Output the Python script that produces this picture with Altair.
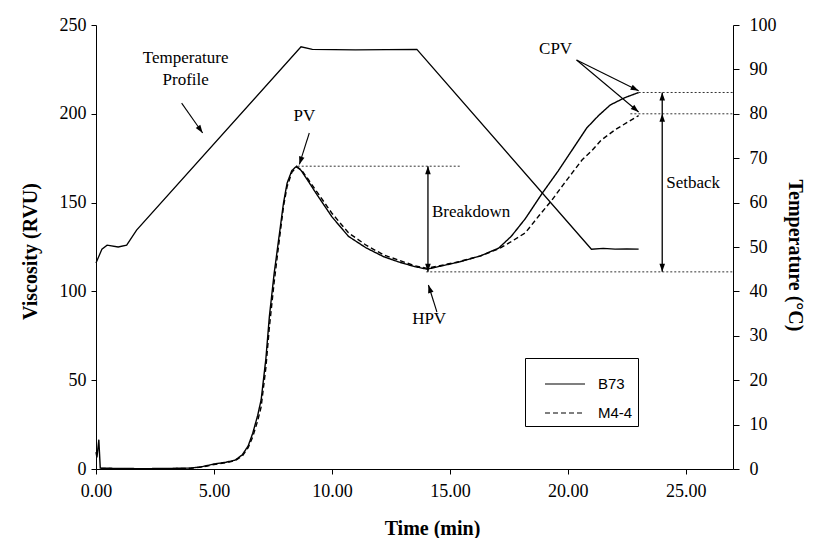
import math
import altair as alt
import pandas as pd

# ---------------- data ----------------
b73_t = [0, 0.04, 0.12, 0.18, 1, 2, 3, 4, 4.5, 5, 5.5, 5.9, 6.2, 6.45, 6.64, 6.85, 7.0, 7.2,
         7.35, 7.55, 7.78, 7.95, 8.1, 8.3, 8.5, 8.7, 9.0, 9.34, 10.0, 10.7, 11.45, 12.2, 12.85,
         13.5, 14.03, 15.4, 16.3, 17.07, 17.6, 18.2, 18.9, 19.6, 20.2, 20.8, 21.3, 21.8, 22.4, 23.0]
b73_v = [9.5, 6.5, 16.5, 0.5, 0.3, 0.2, 0.3, 0.5, 1.3, 2.8, 3.8, 5.0, 8, 13, 20, 30, 39, 62,
         86, 110, 133, 150, 161, 168, 170.5, 168, 162, 155, 142, 131, 124.5, 119.5, 116.5,
         114, 112.5, 116.6, 120, 124.4, 131, 141, 155, 168, 180, 192, 199, 205, 209, 212]

m44_t = [0.2, 1, 2, 3, 4, 4.5, 5, 5.5, 5.9, 6.2, 6.45, 6.64, 6.85, 7.0, 7.2, 7.35, 7.55, 7.78,
         7.95, 8.1, 8.3, 8.5, 8.7, 9.0, 9.34, 10.0, 10.7, 11.45, 12.2, 12.85, 13.5, 14.03, 15.4,
         16.3, 17.07, 17.6, 18.2, 18.8, 19.3, 19.8, 20.2, 20.6, 21.0, 21.4, 22.0, 22.5, 23.0]
m44_v = [0.3, 0.2, 0.2, 0.2, 0.4, 1.1, 2.5, 3.5, 4.7, 7.3, 12, 18, 27, 35, 57, 80, 105, 130,
         148, 159, 167, 170, 168.5, 163, 156.5, 144, 133, 126, 120.5, 117.5, 114.5, 113, 116.8,
         120, 124, 128, 133, 143, 151, 160, 167, 174, 179, 185, 191, 195, 199]

temp_t = [0, 0.25, 0.47, 0.94, 1.3, 1.72, 8.69, 9.17, 11.0, 13.6, 21.0, 21.5, 22.0, 22.5, 23.0]
temp_c = [46.4, 49.5, 50.4, 50.0, 50.4, 53.8, 95.1, 94.5, 94.4, 94.5, 49.5, 49.7, 49.5, 49.6, 49.5]

series_names = ["B73", "M4-4"]
x_ticks = [0, 5, 10, 15, 20, 25]
visc_ticks = [0, 50, 100, 150, 200, 250]
temp_ticks = [0, 10, 20, 30, 40, 50, 60, 70, 80, 90, 100]

# characteristic viscosity levels (RVU)
PV, HPV, CPV_B73, CPV_M44 = 170.5, 111.0, 212.0, 200.0

# dotted guide lines: (start time, end time, level)
guide_start = [8.55, 14.0, 23.0, 22.65]
guide_end = [15.5, 27.0, 27.0, 27.0]
guide_level = [PV, HPV, CPV_B73, CPV_M44]

# vertical double arrows: (time, low, high)
vert_t = [14.07, 24.0]
vert_lo = [HPV, HPV]
vert_hi = [PV, CPV_B73]

# slanted pointer arrows: (t0, v0) -> (t1, v1)
ptr_t0 = [3.63, 9.04, 14.45, 20.37, 20.37]
ptr_v0 = [206.0, 189.2, 88.4, 230.3, 230.3]
ptr_t1 = [4.52, 8.62, 14.09, 23.0, 23.0]
ptr_v1 = [189.2, 171.5, 103.6, 213.0, 201.0]

# labels
lab_text = ["Temperature", "Profile", "PV", "HPV", "CPV"]
lab_t = [3.8, 3.8, 8.83, 14.12, 19.48]
lab_v = [231.4, 219.0, 198.6, 84.4, 236.5]
side_text = ["Breakdown", "Setback"]
side_t = [14.24, 24.17]
side_v = [144.7, 161.0]

# ---------------- layout ----------------
W, H = 637, 444
X_DOM = [0, 27]
V_DOM = [0, 250]
T_DOM = [0, 100]
PX_T = W / (X_DOM[1] - X_DOM[0])
PX_V = H / (V_DOM[1] - V_DOM[0])
SERIF = "Liberation Serif"

visc_df = pd.DataFrame({
    "time": b73_t + m44_t,
    "visc": b73_v + m44_v,
    "series": [series_names[0]] * len(b73_t) + [series_names[1]] * len(m44_t),
})
temp_df = pd.DataFrame({"time": temp_t, "temp": temp_c})
guide_df = pd.DataFrame({"t0": guide_start, "t1": guide_end, "v": guide_level})
vert_df = pd.DataFrame({"t": vert_t, "lo": vert_lo, "hi": vert_hi})
ptr_df = pd.DataFrame({"t0": ptr_t0, "v0": ptr_v0, "t1": ptr_t1, "v1": ptr_v1})


def head(t0, v0, t1, v1, back=4.0):
    dx = (t1 - t0) * PX_T
    dy = -(v1 - v0) * PX_V
    L = math.hypot(dx, dy)
    ux, uy = dx / L, dy / L
    ang = math.degrees(math.atan2(ux, -uy)) % 360
    return t1 - back * ux / PX_T, v1 + back * uy / PX_V, ang


heads = []
for a, b, c, d in zip(ptr_t0, ptr_v0, ptr_t1, ptr_v1):
    heads.append(head(a, b, c, d))
for t, lo, hi in zip(vert_t, vert_lo, vert_hi):
    heads.append(head(t, lo, t, hi))
    heads.append(head(t, hi, t, lo))
heads.append(head(vert_t[1], HPV, vert_t[1], CPV_M44))
head_df = pd.DataFrame(heads, columns=["t", "v", "angle"])

lab_df = pd.DataFrame({"t": lab_t, "v": lab_v, "text": lab_text})
side_df = pd.DataFrame({"t": side_t, "v": side_v, "text": side_text})

xscale = alt.Scale(domain=X_DOM, nice=False, zero=False)
vscale = alt.Scale(domain=V_DOM, nice=False)

x_axis = alt.Axis(values=x_ticks, format=".2f", title="Time (min)", grid=False,
                  titleFont=SERIF, titleFontSize=20, titleFontWeight="bold",
                  titleX=336, titleY=65, titleAlign="center", titleBaseline="alphabetic",
                  labelFont=SERIF, labelFontSize=18, labelColor="black", labelFlush=False,
                  domainColor="black", tickColor="black", tickSize=5, labelPadding=8)
v_axis = alt.Axis(values=visc_ticks, title="Viscosity (RVU)", orient="left", grid=False,
                  titleFont=SERIF, titleFontSize=20, titleFontWeight="bold",
                  titleX=-66, titleY=226, titleAngle=270, titleAlign="center",
                  titleBaseline="middle",
                  labelFont=SERIF, labelFontSize=18, labelColor="black",
                  domainColor="black", tickColor="black", tickSize=5, labelPadding=5)
t_axis = alt.Axis(values=temp_ticks, title="Temperature (°C)", orient="right", grid=False,
                  titleFont=SERIF, titleFontSize=20, titleFontWeight="bold",
                  titleX=61, titleY=230, titleAngle=90, titleAlign="center",
                  titleBaseline="middle",
                  labelFont=SERIF, labelFontSize=18, labelColor="black",
                  domainColor="black", tickColor="black", tickSize=6, labelPadding=10)

X = alt.X("time:Q", scale=xscale, axis=x_axis)

curves = alt.Chart(visc_df).mark_line(strokeWidth=1.4, color="black").encode(
    x=X,
    y=alt.Y("visc:Q", scale=vscale, axis=v_axis),
    strokeDash=alt.StrokeDash(
        "series:N",
        scale=alt.Scale(domain=series_names, range=[[1, 0], [5, 3]]),
        legend=alt.Legend(title=None, orient="none", legendX=429, legendY=333,
                          symbolType="stroke", symbolSize=1600, symbolStrokeWidth=1.2,
                          symbolStrokeColor="black", symbolOffset=14,
                          labelFont="Liberation Sans", labelFontSize=15, labelColor="black",
                          labelOffset=12, padding=5, rowPadding=0,
                          strokeColor="black", fillColor="white"),
    ),
    detail="series:N",
)

guides = alt.Chart(guide_df).mark_rule(strokeDash=[2, 2], strokeWidth=1, color="#333").encode(
    x=alt.X("t0:Q", scale=xscale), x2="t1:Q",
    y=alt.Y("v:Q", scale=vscale),
)
verts = alt.Chart(vert_df).mark_rule(strokeWidth=1.3, color="black").encode(
    x=alt.X("t:Q", scale=xscale),
    y=alt.Y("lo:Q", scale=vscale), y2="hi:Q",
)
ptrs = alt.Chart(ptr_df).mark_rule(strokeWidth=1.1, color="black").encode(
    x=alt.X("t0:Q", scale=xscale), x2="t1:Q",
    y=alt.Y("v0:Q", scale=vscale), y2="v1:Q",
)
arrowheads = alt.Chart(head_df).mark_point(
    shape="M0,-1L-0.7,1L0.7,1Z", filled=True, size=64, color="black", opacity=1
).encode(
    x=alt.X("t:Q", scale=xscale),
    y=alt.Y("v:Q", scale=vscale),
    angle=alt.Angle("angle:Q", scale=None),
)
labels = alt.Chart(lab_df).mark_text(font=SERIF, fontSize=17, color="black",
                                     align="center", baseline="middle").encode(
    x=alt.X("t:Q", scale=xscale), y=alt.Y("v:Q", scale=vscale), text="text:N")
side_labels = alt.Chart(side_df).mark_text(font=SERIF, fontSize=17, color="black",
                                           align="left", baseline="middle").encode(
    x=alt.X("t:Q", scale=xscale), y=alt.Y("v:Q", scale=vscale), text="text:N")

visc_layer = alt.layer(curves, guides, verts, ptrs, arrowheads, labels, side_labels)

temp_line = alt.Chart(temp_df).mark_line(strokeWidth=1.3, color="black").encode(
    x=X,
    y=alt.Y("temp:Q", scale=alt.Scale(domain=T_DOM, nice=False), axis=t_axis),
)

chart = alt.layer(visc_layer, temp_line).resolve_scale(y="independent").properties(
    width=W, height=H,
    autosize=alt.AutoSizeParams(type="none"),
    padding={"left": 88, "top": 17, "right": 73, "bottom": 69},
    background="white",
).configure_view(stroke=None)

chart.save("out.html", embed_options={"renderer": "svg", "actions": False})
